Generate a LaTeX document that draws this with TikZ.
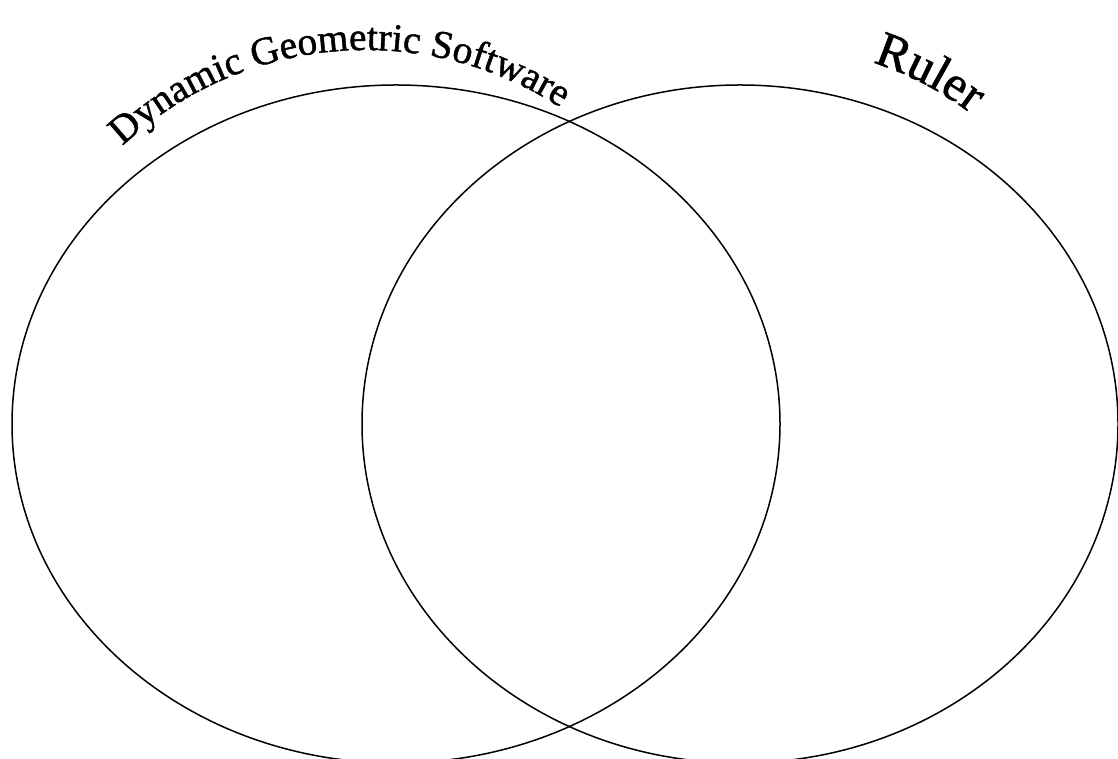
\documentclass[tikz,border=0pt]{standalone}
\usepackage{fontspec}
\setmainfont{Liberation Serif}
\newfontfamily\titlefont[FakeBold=1.2]{Liberation Serif}
\usetikzlibrary{shapes.geometric,decorations.text}

\begin{document}
\begin{tikzpicture}[
    x=1pt, y=1pt,
    setcircle/.style={ellipse, draw=black, line width=1.5pt, inner sep=0pt,
                      minimum width=768pt, minimum height=678pt},
    arclabel/.style={decorate, decoration={text along path, text align=center}},
  ]
    \useasboundingbox (0,0) rectangle (1118,759);

    \node[setcircle] (dgs)   at (396,335) {};
    \node[setcircle, minimum width=756pt] (ruler) at (740,335) {};

    % curved set titles
    \path[arclabel, decoration={text={|\titlefont\fontsize{39.5}{46}\selectfont|Dynamic Geometric Software}}]
      (366,352) ++(135:357) arc[start angle=135, end angle=55, radius=357];
    \path[arclabel, decoration={text={|\titlefont\fontsize{50}{58}\selectfont|Ruler}}]
      (773,385) ++(75:327) arc[start angle=75, end angle=50, radius=327];
  \end{tikzpicture}
\end{document}
